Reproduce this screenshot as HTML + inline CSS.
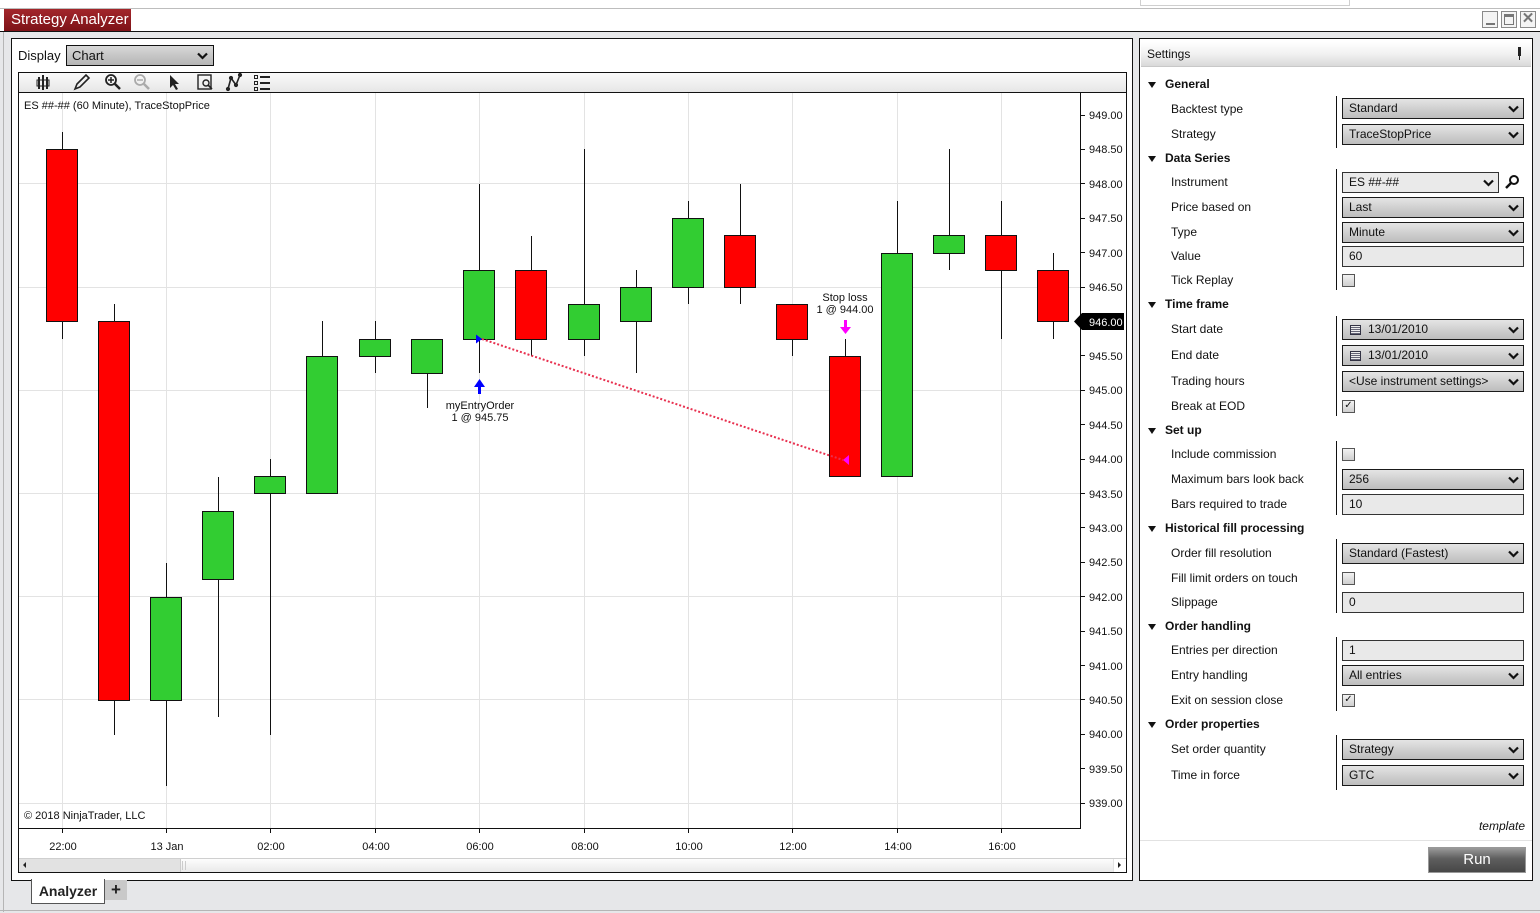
<!DOCTYPE html>
<html><head><meta charset="utf-8">
<style>
*{margin:0;padding:0;box-sizing:border-box}
body{width:1540px;height:913px;position:relative;overflow:hidden;background:#e6e7e9;font-family:"Liberation Sans",Arial,sans-serif;color:#111}
.a{position:absolute}
.lbl{position:absolute;left:1171px;font-size:12px;line-height:14px;color:#111}
.hdr{position:absolute;left:1165px;font-size:12px;font-weight:bold;line-height:14px;color:#111}
.tri{position:absolute;left:1148px;width:0;height:0;border-left:4.5px solid transparent;border-right:4.5px solid transparent;border-top:6px solid #111}
.dd{position:absolute;left:1342px;width:182px;height:21px;border:1px solid #1a1a1a;background:linear-gradient(#e4e4e4,#bdbdbd);font-size:12px;line-height:19px;padding-left:6px;color:#111}
.dd svg{position:absolute;right:4px;top:6px}
.tb{position:absolute;left:1342px;width:182px;height:21px;border:1px solid #333;background:#e9e9e9;font-size:12px;line-height:19px;padding-left:6px;color:#111}
.cb{position:absolute;left:1342px;width:13px;height:13px;border:1px solid #555;background:linear-gradient(#f2f2f2,#cfcfcf)}
.div{position:absolute;left:1336px;width:1px;background:#111}
</style></head><body>
<!-- top strip -->
<div class="a" style="left:0;top:0;width:1540px;height:9px;background:#fff;border-bottom:1px solid #bdbdbd"></div>
<div class="a" style="left:1140px;top:0;width:210px;height:6px;border:1px solid #cfcfcf;border-top:none;background:#fff"></div>
<!-- title bar -->
<div class="a" style="left:0;top:9px;width:1540px;height:23px;background:#fff;border-bottom:1px solid #111"></div>
<div class="a" style="left:4px;top:9px;width:127px;height:22px;background:linear-gradient(#a3262b,#7d1217);color:#fff;font-size:15px;line-height:22px;padding-left:7px;white-space:nowrap">Strategy Analyzer</div>
<!-- window controls -->
<div class="a" style="left:1482px;top:11px;width:16px;height:17px;border:1px solid #8a8a8a;background:#f4f4f4"><div class="a" style="left:3px;top:11px;width:9px;height:2px;background:#777"></div></div>
<div class="a" style="left:1501px;top:11px;width:16px;height:17px;border:1px solid #8a8a8a;background:#f4f4f4"><div class="a" style="left:2px;top:2px;width:10px;height:11px;border:1px solid #777;border-top:3px solid #777"></div></div>
<div class="a" style="left:1520px;top:11px;width:16px;height:17px;border:1px solid #8a8a8a;background:#f4f4f4;color:#777;font-weight:bold;font-size:15px;line-height:14px;text-align:center">✕</div>
<!-- left thin line -->
<div class="a" style="left:3px;top:32px;width:1px;height:880px;background:#b5b5b5"></div>
<div class="a" style="left:0;top:910px;width:1540px;height:1px;background:#b5b5b5"></div>

<!-- left panel -->
<div class="a" style="left:11px;top:38px;width:1122px;height:843px;background:#fff;border:1px solid #111"></div>
<div class="a" style="left:18px;top:48px;font-size:13px">Display</div>
<div class="a" style="left:66px;top:45px;width:148px;height:21px;border:1px solid #111;background:linear-gradient(#d8d8d8,#b5b5b5);font-size:13px;line-height:19px;padding-left:5px">Chart<svg width="11" height="8" style="position:absolute;right:5px;top:6px"><polyline points="1,1.5 5.5,6 10,1.5" fill="none" stroke="#111" stroke-width="2.2"/></svg></div>
<!-- chart frame -->
<div class="a" style="left:18px;top:72px;width:1109px;height:801px;border:1px solid #111;background:#fff"></div>
<div class="a" style="left:19px;top:73px;width:1107px;height:20px;background:linear-gradient(#fafafa,#e6e6e6);border-bottom:1px solid #111"></div>
<!-- scrollbar -->
<div class="a" style="left:19px;top:858px;width:1107px;height:14px;background:#e2e2e2;border-top:1px solid #cfcfcf"></div>
<div class="a" style="left:180px;top:859px;width:933px;height:13px;background:linear-gradient(#fdfdfd,#e9e9e9);border-left:1px solid #ccc"></div>
<div class="a" style="left:182px;top:861px;width:4px;height:9px;border-left:1px solid #ccc;border-right:1px solid #ccc"></div>
<div class="a" style="left:1114px;top:859px;width:12px;height:13px;background:#fff"></div>
<svg class="a" style="left:0;top:0" width="1540" height="913">
<polygon points="23,865 26,862 26,868" fill="#222"/>
<polygon points="1121,865 1118,862 1118,868" fill="#222"/>
</svg>

<!-- tabs -->
<div class="a" style="left:31px;top:879px;width:74px;height:25px;background:#fff;border:1px solid #555;border-top:none;font-size:14px;font-weight:bold;line-height:24px;text-align:center;color:#222">Analyzer</div>
<div class="a" style="left:105px;top:880px;width:22px;height:20px;background:#c9c9c9;font-size:17px;font-weight:bold;line-height:20px;text-align:center;color:#222">+</div>

<!-- right panel -->
<div class="a" style="left:1139px;top:38px;width:394px;height:843px;background:#fff;border:1px solid #111"></div>
<div class="a" style="left:1141px;top:42px;width:390px;height:25px;background:linear-gradient(#fff,#f1f1f1 50%,#d9d9d9);border-bottom:1px solid #c8c8c8;font-size:12px;line-height:24px;padding-left:6px">Settings</div>
<div class="a" style="left:1518px;top:47px;width:3px;height:9px;background:#222"></div>
<div class="a" style="left:1519px;top:55px;width:1px;height:5px;background:#222"></div>

<div class="tri" style="top:82px"></div><div class="hdr" style="top:77px">General</div>
<div class="div" style="top:96px;height:52px"></div>
<div class="lbl" style="top:102px">Backtest type</div><div class="dd" style="top:98px">Standard<svg width="11" height="8"><polyline points="1,1.5 5.5,6 10,1.5" fill="none" stroke="#111" stroke-width="2.2"/></svg></div>
<div class="lbl" style="top:127px">Strategy</div><div class="dd" style="top:124px">TraceStopPrice<svg width="11" height="8"><polyline points="1,1.5 5.5,6 10,1.5" fill="none" stroke="#111" stroke-width="2.2"/></svg></div>

<div class="tri" style="top:156px"></div><div class="hdr" style="top:151px">Data Series</div>
<div class="div" style="top:169px;height:121px"></div>
<div class="lbl" style="top:175px">Instrument</div><div class="tb" style="top:172px;width:157px;background:#eaeaea">ES ##-##<svg width="11" height="8" style="position:absolute;right:4px;top:6px"><polyline points="1,1.5 5.5,6 10,1.5" fill="none" stroke="#111" stroke-width="2.2"/></svg></div>
<svg class="a" style="left:1504px;top:174px" width="16" height="16"><circle cx="10" cy="6" r="4" fill="none" stroke="#111" stroke-width="2"/><line x1="7" y1="9" x2="2" y2="14" stroke="#111" stroke-width="2.5"/></svg>
<div class="lbl" style="top:200px">Price based on</div><div class="dd" style="top:197px">Last<svg width="11" height="8"><polyline points="1,1.5 5.5,6 10,1.5" fill="none" stroke="#111" stroke-width="2.2"/></svg></div>
<div class="lbl" style="top:225px">Type</div><div class="dd" style="top:222px">Minute<svg width="11" height="8"><polyline points="1,1.5 5.5,6 10,1.5" fill="none" stroke="#111" stroke-width="2.2"/></svg></div>
<div class="lbl" style="top:249px">Value</div><div class="tb" style="top:246px">60</div>
<div class="lbl" style="top:273px">Tick Replay</div><div class="cb" style="top:274px"></div>

<div class="tri" style="top:302px"></div><div class="hdr" style="top:297px">Time frame</div>
<div class="div" style="top:316px;height:100px"></div>
<div class="lbl" style="top:322px">Start date</div><div class="dd" style="top:319px;padding-left:25px">13/01/2010<svg width="11" height="8"><polyline points="1,1.5 5.5,6 10,1.5" fill="none" stroke="#111" stroke-width="2.2"/></svg><div class="a" style="left:7px;top:5px;width:11px;height:10px;border:1px solid #334;background:repeating-linear-gradient(#eee 0 1px,#667 1px 2px)"></div></div>
<div class="lbl" style="top:348px">End date</div><div class="dd" style="top:345px;padding-left:25px">13/01/2010<svg width="11" height="8"><polyline points="1,1.5 5.5,6 10,1.5" fill="none" stroke="#111" stroke-width="2.2"/></svg><div class="a" style="left:7px;top:5px;width:11px;height:10px;border:1px solid #334;background:repeating-linear-gradient(#eee 0 1px,#667 1px 2px)"></div></div>
<div class="lbl" style="top:374px">Trading hours</div><div class="dd" style="top:371px">&lt;Use instrument settings&gt;<svg width="11" height="8"><polyline points="1,1.5 5.5,6 10,1.5" fill="none" stroke="#111" stroke-width="2.2"/></svg></div>
<div class="lbl" style="top:399px">Break at EOD</div><div class="cb" style="top:400px;font-size:10px;line-height:10px;text-align:center">✓</div>

<div class="tri" style="top:428px"></div><div class="hdr" style="top:423px">Set up</div>
<div class="div" style="top:441px;height:74px"></div>
<div class="lbl" style="top:447px">Include commission</div><div class="cb" style="top:448px"></div>
<div class="lbl" style="top:472px">Maximum bars look back</div><div class="dd" style="top:469px">256<svg width="11" height="8"><polyline points="1,1.5 5.5,6 10,1.5" fill="none" stroke="#111" stroke-width="2.2"/></svg></div>
<div class="lbl" style="top:497px">Bars required to trade</div><div class="tb" style="top:494px">10</div>

<div class="tri" style="top:526px"></div><div class="hdr" style="top:521px">Historical fill processing</div>
<div class="div" style="top:539px;height:74px"></div>
<div class="lbl" style="top:546px">Order fill resolution</div><div class="dd" style="top:543px">Standard (Fastest)<svg width="11" height="8"><polyline points="1,1.5 5.5,6 10,1.5" fill="none" stroke="#111" stroke-width="2.2"/></svg></div>
<div class="lbl" style="top:571px">Fill limit orders on touch</div><div class="cb" style="top:572px"></div>
<div class="lbl" style="top:595px">Slippage</div><div class="tb" style="top:592px">0</div>

<div class="tri" style="top:624px"></div><div class="hdr" style="top:619px">Order handling</div>
<div class="div" style="top:637px;height:74px"></div>
<div class="lbl" style="top:643px">Entries per direction</div><div class="tb" style="top:640px">1</div>
<div class="lbl" style="top:668px">Entry handling</div><div class="dd" style="top:665px">All entries<svg width="11" height="8"><polyline points="1,1.5 5.5,6 10,1.5" fill="none" stroke="#111" stroke-width="2.2"/></svg></div>
<div class="lbl" style="top:693px">Exit on session close</div><div class="cb" style="top:694px;font-size:10px;line-height:10px;text-align:center">✓</div>

<div class="tri" style="top:722px"></div><div class="hdr" style="top:717px">Order properties</div>
<div class="div" style="top:735px;height:55px"></div>
<div class="lbl" style="top:742px">Set order quantity</div><div class="dd" style="top:739px">Strategy<svg width="11" height="8"><polyline points="1,1.5 5.5,6 10,1.5" fill="none" stroke="#111" stroke-width="2.2"/></svg></div>
<div class="lbl" style="top:768px">Time in force</div><div class="dd" style="top:765px">GTC<svg width="11" height="8"><polyline points="1,1.5 5.5,6 10,1.5" fill="none" stroke="#111" stroke-width="2.2"/></svg></div>

<div class="a" style="left:1440px;top:819px;width:85px;text-align:right;font-size:12px;font-style:italic">template</div>
<div class="a" style="left:1140px;top:840px;width:392px;height:1px;background:#e2e2e2"></div>
<div class="a" style="left:1428px;top:847px;width:98px;height:26px;border:1px solid #999;background:linear-gradient(#9a9a9a,#5e5e5e 45%,#474747);color:#fff;font-size:15px;line-height:24px;text-align:center">Run</div>

<!-- chart svg -->
<svg class="a" style="left:0;top:0" width="1540" height="913" font-family="Liberation Sans, Arial, sans-serif">
<!-- toolbar icons -->
<g fill="#222" stroke="#222">
<rect x="38" y="77" width="2" height="12" stroke="none"/><rect x="42" y="75" width="2" height="15" stroke="none"/><rect x="46" y="77" width="2" height="12" stroke="none"/><rect x="37" y="80" width="12" height="6" fill="none" stroke-width="1"/>
<path d="M75,89 L77,84 L86,75 L89,78 L80,87 Z" fill="none" stroke-width="1.6"/>
<circle cx="111" cy="80" r="5" fill="none" stroke-width="1.8"/><line x1="115" y1="84" x2="120" y2="89" stroke-width="2.5"/><line x1="108" y1="80" x2="114" y2="80" stroke-width="1.5"/><line x1="111" y1="77" x2="111" y2="83" stroke-width="1.5"/>
<g stroke="#aaa"><circle cx="140" cy="80" r="5" fill="none" stroke-width="1.8"/><line x1="144" y1="84" x2="149" y2="89" stroke-width="2.5"/><line x1="137" y1="80" x2="143" y2="80" stroke-width="1.5"/></g>
<path d="M170,75 L170,88 L173,85 L176,90 L178,89 L175,84 L179,84 Z" stroke="none"/>
<rect x="198" y="75" width="13" height="14" fill="none" stroke-width="1.4"/><circle cx="206" cy="83" r="3" fill="none" stroke-width="1.4"/><line x1="208" y1="85" x2="212" y2="89" stroke-width="1.6"/>
<polyline points="228,89 231,78 236,85 240,75" fill="none" stroke-width="1.6"/><circle cx="228" cy="89" r="1.6"/><circle cx="231" cy="78" r="1.6"/><circle cx="236" cy="85" r="1.6"/><circle cx="240" cy="75" r="1.6"/>
<rect x="254.5" y="75.5" width="3" height="3" fill="none" stroke-width="1"/><rect x="254.5" y="81.5" width="3" height="3" fill="none" stroke-width="1"/><rect x="254.5" y="87.5" width="3" height="3" fill="none" stroke-width="1"/>
<rect x="260" y="76" width="10" height="2" stroke="none"/><rect x="260" y="82" width="10" height="2" stroke="none"/><rect x="260" y="88" width="10" height="2" stroke="none"/>
</g>
<!-- gridlines -->
<g stroke="#e3e3e3" stroke-width="1">
<line x1="19" y1="183.5" x2="1080" y2="183.5"/><line x1="19" y1="287.5" x2="1080" y2="287.5"/><line x1="19" y1="390.5" x2="1080" y2="390.5"/><line x1="19" y1="493.5" x2="1080" y2="493.5"/><line x1="19" y1="596.5" x2="1080" y2="596.5"/><line x1="19" y1="699.5" x2="1080" y2="699.5"/><line x1="19" y1="803.5" x2="1080" y2="803.5"/>
<line x1="62.5" y1="93" x2="62.5" y2="828"/><line x1="166.5" y1="93" x2="166.5" y2="828"/><line x1="270.5" y1="93" x2="270.5" y2="828"/><line x1="375.5" y1="93" x2="375.5" y2="828"/><line x1="479.5" y1="93" x2="479.5" y2="828"/><line x1="584.5" y1="93" x2="584.5" y2="828"/><line x1="688.5" y1="93" x2="688.5" y2="828"/><line x1="792.5" y1="93" x2="792.5" y2="828"/><line x1="897.5" y1="93" x2="897.5" y2="828"/><line x1="1001.5" y1="93" x2="1001.5" y2="828"/>
</g>
<!-- axes -->
<g stroke="#111" stroke-width="1">
<line x1="1080.5" y1="93" x2="1080.5" y2="829"/>
<line x1="19" y1="828.5" x2="1081" y2="828.5"/>
</g>
<g stroke="#111">
<line x1="62.5" y1="828" x2="62.5" y2="833"/><line x1="166.5" y1="828" x2="166.5" y2="833"/><line x1="270.5" y1="828" x2="270.5" y2="833"/><line x1="375.5" y1="828" x2="375.5" y2="833"/><line x1="479.5" y1="828" x2="479.5" y2="833"/><line x1="584.5" y1="828" x2="584.5" y2="833"/><line x1="688.5" y1="828" x2="688.5" y2="833"/><line x1="792.5" y1="828" x2="792.5" y2="833"/><line x1="897.5" y1="828" x2="897.5" y2="833"/><line x1="1001.5" y1="828" x2="1001.5" y2="833"/>
<line x1="1080" y1="115.5" x2="1085" y2="115.5"/><line x1="1080" y1="149.5" x2="1085" y2="149.5"/><line x1="1080" y1="183.5" x2="1085" y2="183.5"/><line x1="1080" y1="218.5" x2="1085" y2="218.5"/><line x1="1080" y1="252.5" x2="1085" y2="252.5"/><line x1="1080" y1="287.5" x2="1085" y2="287.5"/><line x1="1080" y1="355.5" x2="1085" y2="355.5"/><line x1="1080" y1="390.5" x2="1085" y2="390.5"/><line x1="1080" y1="424.5" x2="1085" y2="424.5"/><line x1="1080" y1="459.5" x2="1085" y2="459.5"/><line x1="1080" y1="493.5" x2="1085" y2="493.5"/><line x1="1080" y1="527.5" x2="1085" y2="527.5"/><line x1="1080" y1="562.5" x2="1085" y2="562.5"/><line x1="1080" y1="596.5" x2="1085" y2="596.5"/><line x1="1080" y1="631.5" x2="1085" y2="631.5"/><line x1="1080" y1="665.5" x2="1085" y2="665.5"/><line x1="1080" y1="699.5" x2="1085" y2="699.5"/><line x1="1080" y1="734.5" x2="1085" y2="734.5"/><line x1="1080" y1="768.5" x2="1085" y2="768.5"/><line x1="1080" y1="803.5" x2="1085" y2="803.5"/>
</g>
<g font-size="11" fill="#111">
<text x="1089" y="119">949.00</text><text x="1089" y="153">948.50</text><text x="1089" y="188">948.00</text><text x="1089" y="222">947.50</text><text x="1089" y="257">947.00</text><text x="1089" y="291">946.50</text><text x="1089" y="360">945.50</text><text x="1089" y="394">945.00</text><text x="1089" y="429">944.50</text><text x="1089" y="463">944.00</text><text x="1089" y="498">943.50</text><text x="1089" y="532">943.00</text><text x="1089" y="566">942.50</text><text x="1089" y="601">942.00</text><text x="1089" y="635">941.50</text><text x="1089" y="670">941.00</text><text x="1089" y="704">940.50</text><text x="1089" y="738">940.00</text><text x="1089" y="773">939.50</text><text x="1089" y="807">939.00</text>
</g>
<g font-size="11" fill="#111" text-anchor="middle">
<text x="63" y="850">22:00</text><text x="167" y="850">13 Jan</text><text x="271" y="850">02:00</text><text x="376" y="850">04:00</text><text x="480" y="850">06:00</text><text x="585" y="850">08:00</text><text x="689" y="850">10:00</text><text x="793" y="850">12:00</text><text x="898" y="850">14:00</text><text x="1002" y="850">16:00</text>
</g>
<text x="24" y="109" font-size="11" fill="#111">ES ##-## (60 Minute), TraceStopPrice</text>
<text x="24" y="819" font-size="11" fill="#111">© 2018 NinjaTrader, LLC</text>
<!-- candles -->
<g stroke="#111" stroke-width="1">
<line x1="62.5" y1="132" x2="62.5" y2="339"/><rect x="46.5" y="149.5" width="31" height="172" fill="#ff0000"/>
<line x1="114.5" y1="304" x2="114.5" y2="735"/><rect x="98.5" y="321.5" width="31" height="379" fill="#ff0000"/>
<line x1="166.5" y1="563" x2="166.5" y2="786"/><rect x="150.5" y="597.5" width="31" height="103" fill="#32cd32"/>
<line x1="218.5" y1="477" x2="218.5" y2="717"/><rect x="202.5" y="511.5" width="31" height="68" fill="#32cd32"/>
<line x1="270.5" y1="459" x2="270.5" y2="735"/><rect x="254.5" y="476.5" width="31" height="17" fill="#32cd32"/>
<line x1="322.5" y1="321" x2="322.5" y2="494"/><rect x="306.5" y="356.5" width="31" height="137" fill="#32cd32"/>
<line x1="375.5" y1="321" x2="375.5" y2="373"/><rect x="359.5" y="339.5" width="31" height="17" fill="#32cd32"/>
<line x1="427.5" y1="339" x2="427.5" y2="408"/><rect x="411.5" y="339.5" width="31" height="34" fill="#32cd32"/>
<line x1="479.5" y1="184" x2="479.5" y2="373"/><rect x="463.5" y="270.5" width="31" height="69" fill="#32cd32"/>
<line x1="531.5" y1="236" x2="531.5" y2="356"/><rect x="515.5" y="270.5" width="31" height="69" fill="#ff0000"/>
<line x1="584.5" y1="149" x2="584.5" y2="356"/><rect x="568.5" y="304.5" width="31" height="35" fill="#32cd32"/>
<line x1="636.5" y1="270" x2="636.5" y2="373"/><rect x="620.5" y="287.5" width="31" height="34" fill="#32cd32"/>
<line x1="688.5" y1="201" x2="688.5" y2="304"/><rect x="672.5" y="218.5" width="31" height="69" fill="#32cd32"/>
<line x1="740.5" y1="184" x2="740.5" y2="304"/><rect x="724.5" y="235.5" width="31" height="52" fill="#ff0000"/>
<line x1="792.5" y1="304" x2="792.5" y2="356"/><rect x="776.5" y="304.5" width="31" height="35" fill="#ff0000"/>
<line x1="845.5" y1="339" x2="845.5" y2="477"/><rect x="829.5" y="356.5" width="31" height="120" fill="#ff0000"/>
<line x1="897.5" y1="201" x2="897.5" y2="477"/><rect x="881.5" y="253.5" width="31" height="223" fill="#32cd32"/>
<line x1="949.5" y1="149" x2="949.5" y2="270"/><rect x="933.5" y="235.5" width="31" height="18" fill="#32cd32"/>
<line x1="1001.5" y1="201" x2="1001.5" y2="339"/><rect x="985.5" y="235.5" width="31" height="35" fill="#ff0000"/>
<line x1="1053.5" y1="253" x2="1053.5" y2="339"/><rect x="1037.5" y="270.5" width="31" height="51" fill="#ff0000"/>
</g>
<!-- trade annotations -->
<line x1="482" y1="339" x2="843" y2="460" stroke="#e8304f" stroke-width="2" stroke-dasharray="2,2"/>
<polygon points="476,334.5 476,343.5 482,339" fill="#0000ff"/>
<polygon points="849,455 849,465 843,460" fill="#ff00ff"/>
<rect x="478" y="386" width="3" height="8" fill="#0000ff"/><polygon points="474,387 485,387 479.5,379" fill="#0000ff"/>
<rect x="844" y="320" width="3" height="8" fill="#ff00ff"/><polygon points="840,327 851,327 845.5,334" fill="#ff00ff"/>
<g font-size="11" fill="#111" text-anchor="middle">
<text x="480" y="409">myEntryOrder</text><text x="480" y="421">1 @ 945.75</text>
<text x="845" y="301">Stop loss</text><text x="845" y="313">1 @ 944.00</text>
</g>
<!-- price marker -->
<polygon points="1074,321.5 1082,313 1124,313 1124,330 1082,330" fill="#000"/>
<text x="1089" y="326" font-size="11" fill="#fff">946.00</text>
</svg>
</body></html>
